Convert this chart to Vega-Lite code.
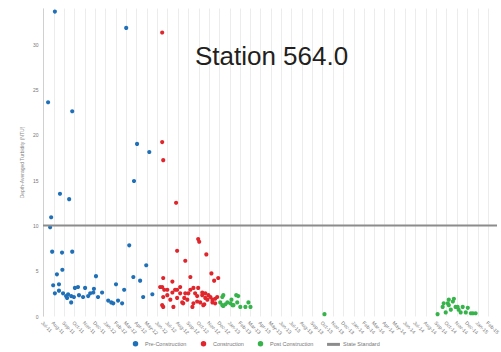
{
  "$schema": "https://vega.github.io/schema/vega-lite/v6.json",
  "width": 454,
  "height": 308,
  "autosize": {"type": "none"},
  "padding": {"left": 43, "top": 8, "right": 4, "bottom": 36},
  "background": "white",
  "config": {"view": {"stroke": null}, "font": "Liberation Sans"},
  "datasets": {
    "points": [
      {"date": "2011-08-05", "turbidity": 33.6, "phase": "Pre-Construction"},
      {"date": "2011-07-16", "turbidity": 23.6, "phase": "Pre-Construction"},
      {"date": "2011-09-25", "turbidity": 22.6, "phase": "Pre-Construction"},
      {"date": "2012-03-02", "turbidity": 31.8, "phase": "Pre-Construction"},
      {"date": "2012-04-03", "turbidity": 19.0, "phase": "Pre-Construction"},
      {"date": "2012-05-09", "turbidity": 18.1, "phase": "Pre-Construction"},
      {"date": "2012-03-25", "turbidity": 14.9, "phase": "Pre-Construction"},
      {"date": "2011-08-20", "turbidity": 13.5, "phase": "Pre-Construction"},
      {"date": "2011-09-16", "turbidity": 12.9, "phase": "Pre-Construction"},
      {"date": "2011-07-25", "turbidity": 10.9, "phase": "Pre-Construction"},
      {"date": "2011-07-22", "turbidity": 9.8, "phase": "Pre-Construction"},
      {"date": "2011-07-28", "turbidity": 7.1, "phase": "Pre-Construction"},
      {"date": "2011-08-26", "turbidity": 7.0, "phase": "Pre-Construction"},
      {"date": "2011-09-25", "turbidity": 7.1, "phase": "Pre-Construction"},
      {"date": "2012-03-11", "turbidity": 7.8, "phase": "Pre-Construction"},
      {"date": "2012-04-30", "turbidity": 5.6, "phase": "Pre-Construction"},
      {"date": "2011-08-11", "turbidity": 4.6, "phase": "Pre-Construction"},
      {"date": "2011-08-27", "turbidity": 5.1, "phase": "Pre-Construction"},
      {"date": "2011-12-04", "turbidity": 4.4, "phase": "Pre-Construction"},
      {"date": "2012-03-23", "turbidity": 4.3, "phase": "Pre-Construction"},
      {"date": "2012-04-12", "turbidity": 3.9, "phase": "Pre-Construction"},
      {"date": "2012-04-21", "turbidity": 2.1, "phase": "Pre-Construction"},
      {"date": "2012-05-18", "turbidity": 2.4, "phase": "Pre-Construction"},
      {"date": "2012-02-01", "turbidity": 3.5, "phase": "Pre-Construction"},
      {"date": "2012-02-25", "turbidity": 2.9, "phase": "Pre-Construction"},
      {"date": "2011-07-31", "turbidity": 3.4, "phase": "Pre-Construction"},
      {"date": "2011-08-17", "turbidity": 3.5, "phase": "Pre-Construction"},
      {"date": "2011-08-05", "turbidity": 2.5, "phase": "Pre-Construction"},
      {"date": "2011-08-17", "turbidity": 2.8, "phase": "Pre-Construction"},
      {"date": "2011-08-29", "turbidity": 2.5, "phase": "Pre-Construction"},
      {"date": "2011-09-07", "turbidity": 2.2, "phase": "Pre-Construction"},
      {"date": "2011-09-10", "turbidity": 2.0, "phase": "Pre-Construction"},
      {"date": "2011-09-13", "turbidity": 2.4, "phase": "Pre-Construction"},
      {"date": "2011-09-22", "turbidity": 1.5, "phase": "Pre-Construction"},
      {"date": "2011-09-22", "turbidity": 2.2, "phase": "Pre-Construction"},
      {"date": "2011-09-30", "turbidity": 2.1, "phase": "Pre-Construction"},
      {"date": "2011-10-03", "turbidity": 3.1, "phase": "Pre-Construction"},
      {"date": "2011-10-12", "turbidity": 3.2, "phase": "Pre-Construction"},
      {"date": "2011-10-15", "turbidity": 2.3, "phase": "Pre-Construction"},
      {"date": "2011-10-27", "turbidity": 2.1, "phase": "Pre-Construction"},
      {"date": "2011-11-02", "turbidity": 3.1, "phase": "Pre-Construction"},
      {"date": "2011-11-11", "turbidity": 2.2, "phase": "Pre-Construction"},
      {"date": "2011-11-17", "turbidity": 2.5, "phase": "Pre-Construction"},
      {"date": "2011-11-26", "turbidity": 2.6, "phase": "Pre-Construction"},
      {"date": "2011-11-28", "turbidity": 3.0, "phase": "Pre-Construction"},
      {"date": "2011-12-10", "turbidity": 2.1, "phase": "Pre-Construction"},
      {"date": "2011-12-22", "turbidity": 2.6, "phase": "Pre-Construction"},
      {"date": "2012-01-09", "turbidity": 1.7, "phase": "Pre-Construction"},
      {"date": "2012-01-18", "turbidity": 1.5, "phase": "Pre-Construction"},
      {"date": "2012-01-24", "turbidity": 1.4, "phase": "Pre-Construction"},
      {"date": "2012-02-07", "turbidity": 1.7, "phase": "Pre-Construction"},
      {"date": "2012-02-19", "turbidity": 1.4, "phase": "Pre-Construction"},
      {"date": "2012-06-16", "turbidity": 31.3, "phase": "Construction"},
      {"date": "2012-06-16", "turbidity": 19.2, "phase": "Construction"},
      {"date": "2012-06-19", "turbidity": 17.2, "phase": "Construction"},
      {"date": "2012-07-27", "turbidity": 12.5, "phase": "Construction"},
      {"date": "2012-09-30", "turbidity": 8.5, "phase": "Construction"},
      {"date": "2012-10-03", "turbidity": 8.2, "phase": "Construction"},
      {"date": "2012-07-30", "turbidity": 7.2, "phase": "Construction"},
      {"date": "2012-08-23", "turbidity": 6.1, "phase": "Construction"},
      {"date": "2012-10-24", "turbidity": 6.8, "phase": "Construction"},
      {"date": "2012-09-07", "turbidity": 4.3, "phase": "Construction"},
      {"date": "2012-11-08", "turbidity": 4.7, "phase": "Construction"},
      {"date": "2012-11-16", "turbidity": 3.9, "phase": "Construction"},
      {"date": "2012-11-28", "turbidity": 4.2, "phase": "Construction"},
      {"date": "2012-06-19", "turbidity": 4.2, "phase": "Construction"},
      {"date": "2012-07-16", "turbidity": 3.8, "phase": "Construction"},
      {"date": "2012-06-10", "turbidity": 3.2, "phase": "Construction"},
      {"date": "2012-06-16", "turbidity": 3.2, "phase": "Construction"},
      {"date": "2012-06-22", "turbidity": 2.9, "phase": "Construction"},
      {"date": "2012-07-01", "turbidity": 2.3, "phase": "Construction"},
      {"date": "2012-07-01", "turbidity": 2.9, "phase": "Construction"},
      {"date": "2012-07-16", "turbidity": 2.6, "phase": "Construction"},
      {"date": "2012-07-24", "turbidity": 2.9, "phase": "Construction"},
      {"date": "2012-07-30", "turbidity": 2.9, "phase": "Construction"},
      {"date": "2012-08-08", "turbidity": 3.2, "phase": "Construction"},
      {"date": "2012-08-08", "turbidity": 2.5, "phase": "Construction"},
      {"date": "2012-08-20", "turbidity": 2.0, "phase": "Construction"},
      {"date": "2012-08-23", "turbidity": 2.5, "phase": "Construction"},
      {"date": "2012-09-01", "turbidity": 2.5, "phase": "Construction"},
      {"date": "2012-09-07", "turbidity": 2.9, "phase": "Construction"},
      {"date": "2012-09-16", "turbidity": 3.1, "phase": "Construction"},
      {"date": "2012-09-21", "turbidity": 2.5, "phase": "Construction"},
      {"date": "2012-09-27", "turbidity": 2.2, "phase": "Construction"},
      {"date": "2012-09-30", "turbidity": 3.1, "phase": "Construction"},
      {"date": "2012-10-12", "turbidity": 2.6, "phase": "Construction"},
      {"date": "2012-10-12", "turbidity": 2.3, "phase": "Construction"},
      {"date": "2012-10-21", "turbidity": 2.0, "phase": "Construction"},
      {"date": "2012-10-21", "turbidity": 2.5, "phase": "Construction"},
      {"date": "2012-10-30", "turbidity": 2.3, "phase": "Construction"},
      {"date": "2012-11-05", "turbidity": 2.1, "phase": "Construction"},
      {"date": "2012-11-11", "turbidity": 1.8, "phase": "Construction"},
      {"date": "2012-11-19", "turbidity": 1.4, "phase": "Construction"},
      {"date": "2012-11-19", "turbidity": 1.9, "phase": "Construction"},
      {"date": "2012-11-25", "turbidity": 2.1, "phase": "Construction"},
      {"date": "2012-06-19", "turbidity": 2.1, "phase": "Construction"},
      {"date": "2012-07-10", "turbidity": 1.8, "phase": "Construction"},
      {"date": "2012-07-30", "turbidity": 2.0, "phase": "Construction"},
      {"date": "2012-08-14", "turbidity": 1.5, "phase": "Construction"},
      {"date": "2012-08-29", "turbidity": 1.8, "phase": "Construction"},
      {"date": "2012-09-16", "turbidity": 1.4, "phase": "Construction"},
      {"date": "2012-10-06", "turbidity": 1.5, "phase": "Construction"},
      {"date": "2012-10-27", "turbidity": 1.8, "phase": "Construction"},
      {"date": "2012-11-11", "turbidity": 1.5, "phase": "Construction"},
      {"date": "2012-06-16", "turbidity": 1.2, "phase": "Construction"},
      {"date": "2012-06-19", "turbidity": 1.0, "phase": "Construction"},
      {"date": "2012-07-19", "turbidity": 1.0, "phase": "Construction"},
      {"date": "2012-08-17", "turbidity": 1.4, "phase": "Construction"},
      {"date": "2012-09-13", "turbidity": 1.0, "phase": "Construction"},
      {"date": "2012-09-27", "turbidity": 1.6, "phase": "Construction"},
      {"date": "2012-10-15", "turbidity": 1.2, "phase": "Construction"},
      {"date": "2012-10-18", "turbidity": 1.3, "phase": "Construction"},
      {"date": "2012-12-13", "turbidity": 2.3, "phase": "Post Construction"},
      {"date": "2013-01-26", "turbidity": 2.2, "phase": "Post Construction"},
      {"date": "2013-02-25", "turbidity": 1.5, "phase": "Post Construction"},
      {"date": "2012-12-04", "turbidity": 1.5, "phase": "Post Construction"},
      {"date": "2012-12-25", "turbidity": 1.5, "phase": "Post Construction"},
      {"date": "2013-01-03", "turbidity": 1.4, "phase": "Post Construction"},
      {"date": "2013-01-12", "turbidity": 1.2, "phase": "Post Construction"},
      {"date": "2013-02-01", "turbidity": 1.0, "phase": "Post Construction"},
      {"date": "2013-02-16", "turbidity": 1.0, "phase": "Post Construction"},
      {"date": "2013-03-03", "turbidity": 1.0, "phase": "Post Construction"},
      {"date": "2012-12-10", "turbidity": 1.2, "phase": "Post Construction"},
      {"date": "2012-12-19", "turbidity": 1.3, "phase": "Post Construction"},
      {"date": "2013-01-23", "turbidity": 1.5, "phase": "Post Construction"},
      {"date": "2013-01-06", "turbidity": 1.8, "phase": "Post Construction"},
      {"date": "2012-12-10", "turbidity": 2.1, "phase": "Post Construction"},
      {"date": "2013-01-09", "turbidity": 1.2, "phase": "Post Construction"},
      {"date": "2013-01-20", "turbidity": 2.3, "phase": "Post Construction"},
      {"date": "2012-12-13", "turbidity": 1.1, "phase": "Post Construction"},
      {"date": "2013-10-07", "turbidity": 0.2, "phase": "Post Construction"},
      {"date": "2014-09-05", "turbidity": 0.2, "phase": "Post Construction"},
      {"date": "2014-09-20", "turbidity": 1.0, "phase": "Post Construction"},
      {"date": "2014-09-23", "turbidity": 1.4, "phase": "Post Construction"},
      {"date": "2014-10-05", "turbidity": 1.4, "phase": "Post Construction"},
      {"date": "2014-10-08", "turbidity": 1.8, "phase": "Post Construction"},
      {"date": "2014-10-20", "turbidity": 1.6, "phase": "Post Construction"},
      {"date": "2014-10-23", "turbidity": 1.9, "phase": "Post Construction"},
      {"date": "2014-10-14", "turbidity": 0.7, "phase": "Post Construction"},
      {"date": "2014-09-29", "turbidity": 0.4, "phase": "Post Construction"},
      {"date": "2014-10-28", "turbidity": 1.0, "phase": "Post Construction"},
      {"date": "2014-11-03", "turbidity": 1.0, "phase": "Post Construction"},
      {"date": "2014-11-06", "turbidity": 0.7, "phase": "Post Construction"},
      {"date": "2014-11-12", "turbidity": 0.4, "phase": "Post Construction"},
      {"date": "2014-11-18", "turbidity": 1.0, "phase": "Post Construction"},
      {"date": "2014-11-27", "turbidity": 0.4, "phase": "Post Construction"},
      {"date": "2014-12-03", "turbidity": 0.9, "phase": "Post Construction"},
      {"date": "2014-12-12", "turbidity": 0.3, "phase": "Post Construction"},
      {"date": "2014-12-18", "turbidity": 0.3, "phase": "Post Construction"},
      {"date": "2014-12-26", "turbidity": 0.3, "phase": "Post Construction"},
      {"date": "2014-10-08", "turbidity": 1.2, "phase": "Post Construction"}
    ],
    "standard": [{"turbidity": 10, "phase": "State Standard"}],
    "label": [{"date": "2013-05-04", "turbidity": 28.6, "text": "Station 564.0"}]
  },
  "layer": [
    {
      "data": {"name": "points"},
      "mark": {"type": "point", "filled": true, "size": 140, "opacity": 1},
      "encoding": {
        "x": {
          "field": "date", "type": "temporal",
          "scale": {"domain": ["2011-07-01", "2015-02-27"]},
          "axis": {
            "title": null, "format": "%b-%y",
            "tickCount": {"interval": "month", "step": 1},
            "labelAngle": 45, "labelFontSize": 5, "labelColor": "#777",
            "labelOverlap": false, "labelFlush": false, "labelPadding": 4,
            "grid": true, "gridColor": "#ececec", "gridWidth": 1,
            "domain": false, "ticks": false
          }
        },
        "y": {
          "field": "turbidity", "type": "quantitative",
          "scale": {"domain": [0, 34], "nice": false},
          "axis": {
            "title": "Depth-Averaged Turbidity (NTU)",
            "titleFontSize": 5, "titleColor": "#888", "titleFontWeight": "normal", "titlePadding": 8,
            "values": [0, 5, 10, 15, 20, 25, 30],
            "labelFontSize": 5, "labelColor": "#777", "labelPadding": 5,
            "grid": false, "domain": true, "domainColor": "#d0d0d0", "ticks": false
          }
        },
        "color": {
          "field": "phase", "type": "nominal",
          "scale": {
            "domain": ["Pre-Construction", "Construction", "Post Construction", "State Standard"],
            "range": ["#2070b8", "#e0262c", "#36b34a", "#8c8c8c"]
          },
          "legend": {
            "title": null, "orient": "none", "legendX": 86, "legendY": 329, "direction": "horizontal",
            "labelFontSize": 5.5, "labelColor": "#777", "symbolSize": 130,
            "columnPadding": 10, "labelOffset": 3
          }
        },
        "shape": {
          "field": "phase", "type": "nominal",
          "scale": {
            "domain": ["Pre-Construction", "Construction", "Post Construction", "State Standard"],
            "range": [
              "M-0.35,0A0.35,0.35,0,1,1,0.35,0A0.35,0.35,0,1,1,-0.35,0Z",
              "M-0.35,0A0.35,0.35,0,1,1,0.35,0A0.35,0.35,0,1,1,-0.35,0Z",
              "M-0.35,0A0.35,0.35,0,1,1,0.35,0A0.35,0.35,0,1,1,-0.35,0Z",
              "M-1,-0.13H1V0.13H-1Z"
            ]
          },
          "legend": {
            "title": null, "orient": "none", "legendX": 86, "legendY": 329, "direction": "horizontal",
            "labelFontSize": 5.5, "labelColor": "#777", "symbolSize": 130,
            "columnPadding": 10, "labelOffset": 3
          }
        }
      }
    },
    {
      "data": {"name": "standard"},
      "mark": {"type": "rule", "strokeWidth": 2},
      "encoding": {
        "y": {"field": "turbidity", "type": "quantitative"},
        "color": {"field": "phase", "type": "nominal", "legend": null}
      }
    },
    {
      "data": {"name": "label"},
      "mark": {"type": "text", "fontSize": 26, "font": "Liberation Sans", "color": "#231f20", "align": "center", "baseline": "middle"},
      "encoding": {
        "x": {"field": "date", "type": "temporal"},
        "y": {"field": "turbidity", "type": "quantitative"},
        "text": {"field": "text"}
      }
    }
  ]
}
